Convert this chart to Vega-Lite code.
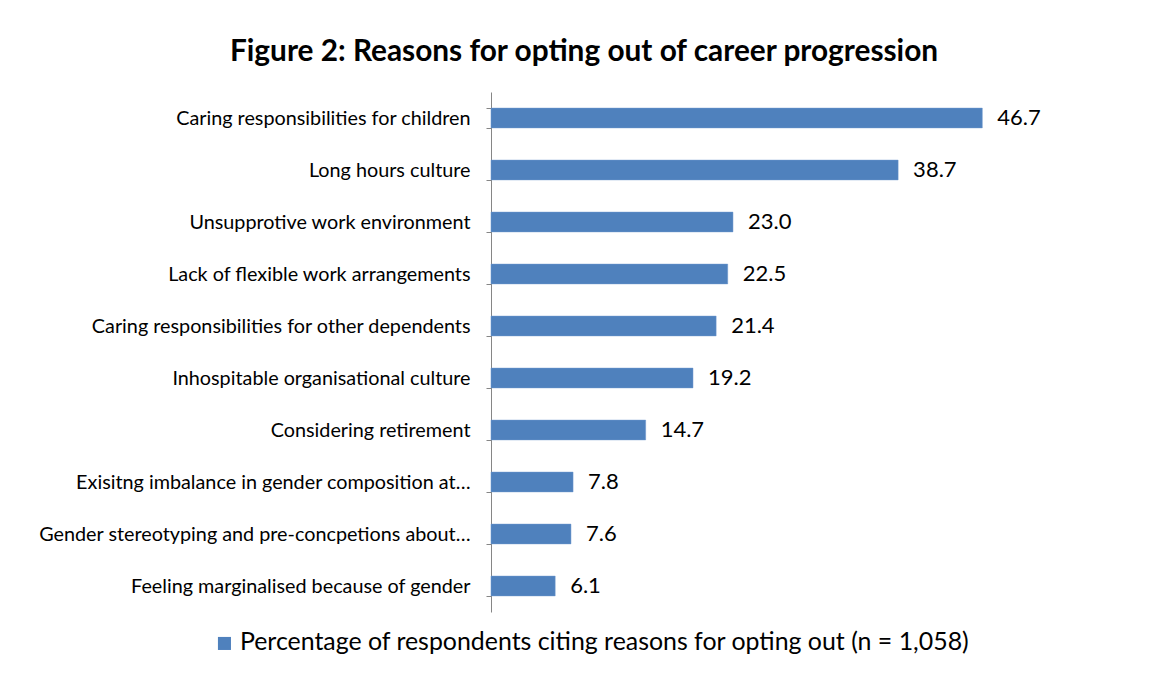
{
  "$schema": "https://vega.github.io/schema/vega-lite/v6.json",
  "autosize": "none",
  "width": 526,
  "height": 520,
  "padding": {"left": 491, "top": 92, "right": 138, "bottom": 63},
  "background": "white",
  "title": {
    "text": "Figure 2: Reasons for opting out of career progression",
    "font": "Lato",
    "fontSize": 29.8,
    "fontWeight": "bold",
    "color": "black",
    "anchor": "middle",
    "dx": -170,
    "offset": 15
  },
  "data": {
    "values": [
      {"reason": "Caring responsibilities for children", "pct": 46.7},
      {"reason": "Long hours culture", "pct": 38.7},
      {"reason": "Unsupprotive work environment", "pct": 23.0},
      {"reason": "Lack of flexible work arrangements", "pct": 22.5},
      {"reason": "Caring responsibilities for other dependents", "pct": 21.4},
      {"reason": "Inhospitable organisational culture", "pct": 19.2},
      {"reason": "Considering retirement", "pct": 14.7},
      {"reason": "Exisitng imbalance in gender composition at…", "pct": 7.8},
      {"reason": "Gender stereotyping and pre-concpetions about…", "pct": 7.6},
      {"reason": "Feeling marginalised because of gender", "pct": 6.1}
    ]
  },
  "encoding": {
    "y": {
      "field": "reason",
      "type": "nominal",
      "sort": null,
      "title": null,
      "scale": {"paddingInner": 0.62, "paddingOuter": 0.31},
      "axis": {
        "labelFont": "Lato",
        "labelFontSize": 19.8,
        "labelColor": "black",
        "labelLimit": 500,
        "labelPadding": 16,
        "tickBand": "extent",
        "tickSize": 5,
        "tickColor": "#868686",
        "domainColor": "#868686",
        "grid": false
      }
    },
    "x": {
      "field": "pct",
      "type": "quantitative",
      "scale": {"domain": [0, 50]},
      "axis": null
    }
  },
  "layer": [
    {
      "mark": {"type": "bar", "stroke": "#6A95CC", "strokeWidth": 0.5},
      "encoding": {
        "color": {
          "datum": "Percentage of respondents citing reasons for opting out (n = 1,058)",
          "type": "nominal",
          "scale": {"range": ["#4F81BD"]},
          "legend": {
            "title": null,
            "orient": "none",
            "legendX": -279,
            "legendY": 539,
            "symbolType": "square",
            "symbolSize": 170,
            "symbolStrokeWidth": 0,
            "labelFont": "Lato",
            "labelFontSize": 24.9,
            "labelColor": "black",
            "labelLimit": 900,
            "labelOffset": 3
          }
        }
      }
    },
    {
      "mark": {
        "type": "text",
        "align": "left",
        "baseline": "middle",
        "dx": 15,
        "font": "Lato",
        "fontSize": 22,
        "color": "black"
      },
      "encoding": {
        "text": {"field": "pct", "type": "quantitative", "format": ".1f"}
      }
    }
  ],
  "config": {"view": {"stroke": null}}
}
